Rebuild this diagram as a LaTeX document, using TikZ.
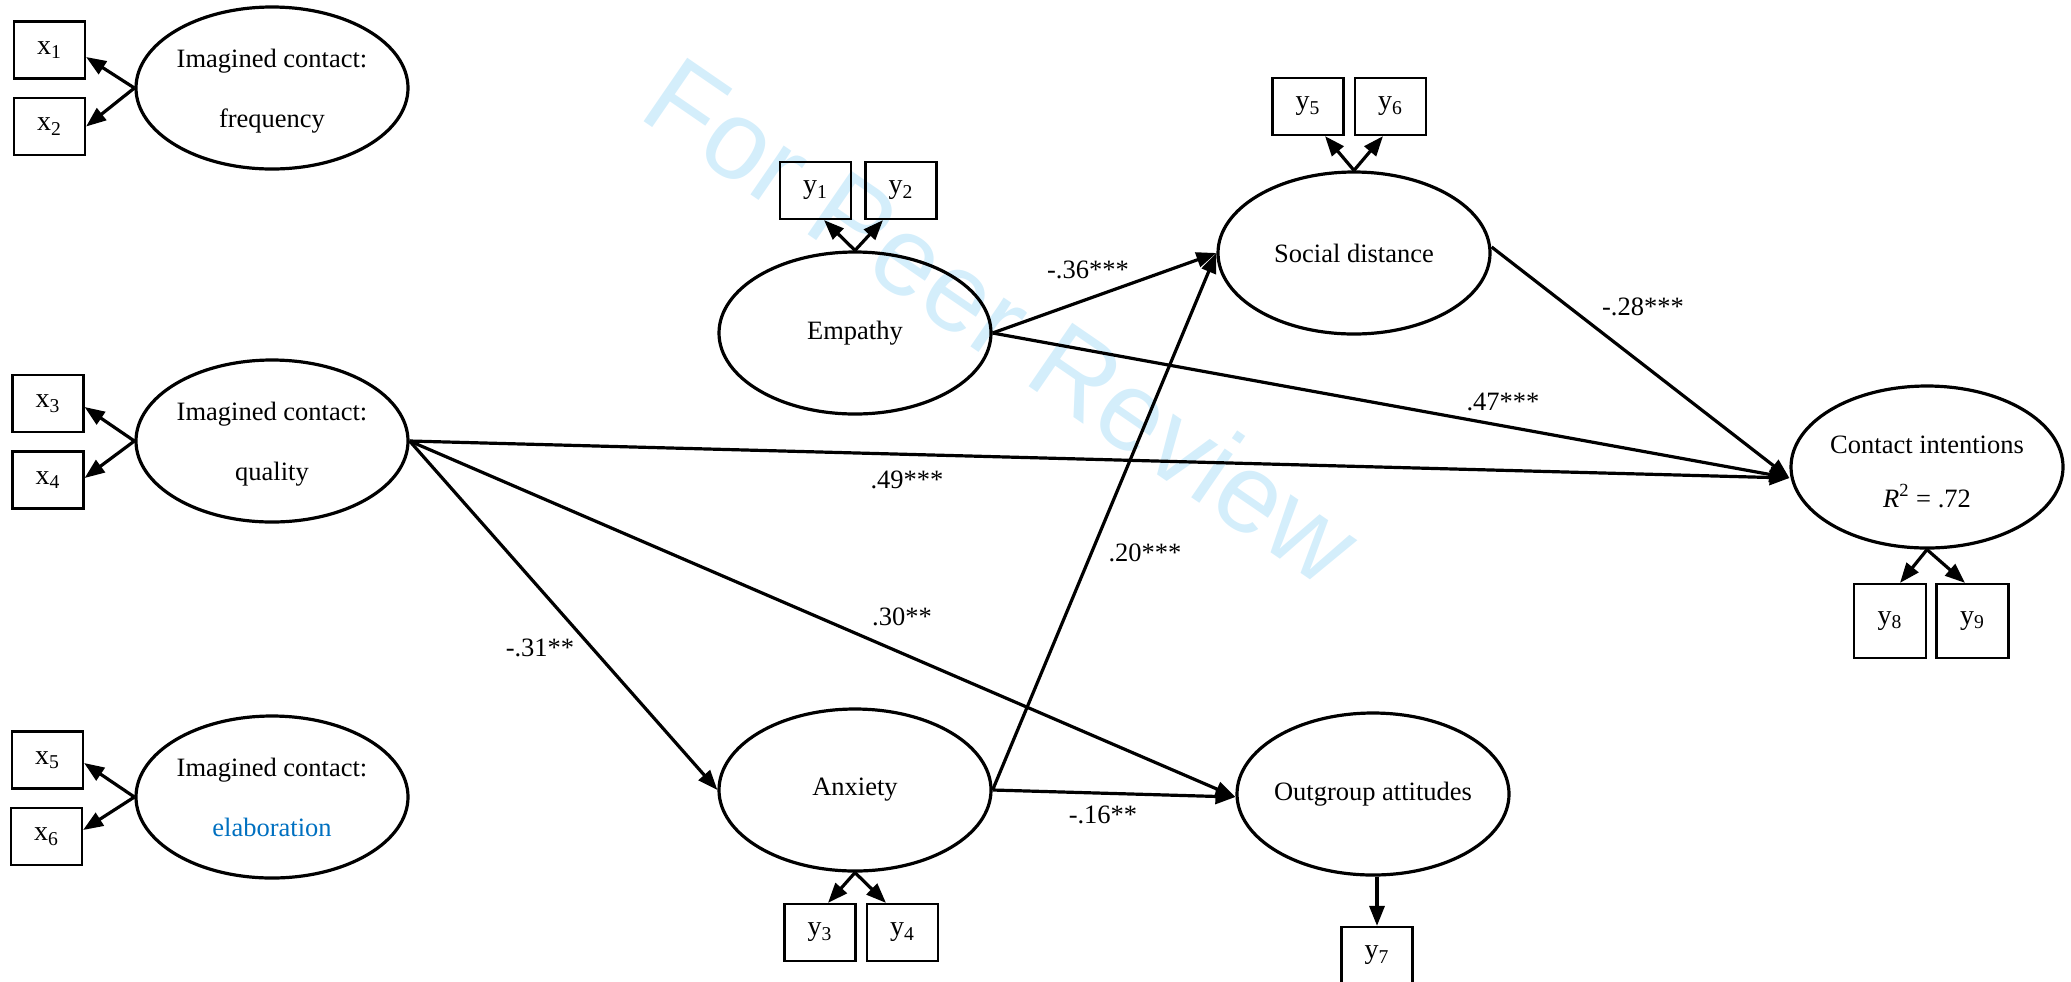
\documentclass[tikz,border=0pt]{standalone}
\usepackage{fontspec}
\setmainfont{Liberation Serif}
\newfontfamily\wmfont{Liberation Sans}
\usetikzlibrary{shapes.geometric, arrows.meta, calc}
\definecolor{wmblue}{RGB}{212,238,251}
\definecolor{elabblue}{RGB}{0,112,192}
\newcommand{\mainsize}{\fontsize{13.25}{15.9}\selectfont}
% two centred lines inside an ellipse, lowered a little, taking no width
\newcommand{\twolines}[4]{\makebox[0pt]{\raisebox{-#4}[\height][\depth]{%
  \begin{tabular}{@{}c@{}}#1\\[#3]#2\end{tabular}}}}

\begin{document}
\begin{tikzpicture}[x=0.5pt, y=-0.5pt,
  latent/.style={ellipse, draw, line width=1.6pt, minimum width=136pt,
    minimum height=81pt, inner sep=0pt, font=\mainsize},
  indicator/.style={rectangle, draw, line width=1.1pt, minimum width=35.5pt,
    minimum height=28.5pt, inner sep=0pt, font=\fontsize{14}{16}\selectfont},
  tallindicator/.style={indicator, minimum width=36pt, minimum height=37pt},
  loading/.style={line width=1.6pt, -{Triangle[length=10pt, width=7.5pt]}},
  effect/.style={line width=1.6pt, -{Triangle[length=10pt, width=7.5pt]}},
  coef/.style={inner sep=0pt, font=\mainsize},
  watermark/.style={rotate=-34.5, text=wmblue, inner sep=0pt,
    font=\wmfont\fontsize{56}{60}\selectfont}
]
\useasboundingbox (0,0) rectangle (2071,981);

% review watermark, drawn underneath everything
\node[watermark] (wm) at (1003,320) {For Peer Review};

% latent variables
\node[latent] (f) at (272,88) {\twolines{Imagined contact:}{frequency}{14pt}{1.5pt}};
\node[latent] (q) at (272,441) {\twolines{Imagined contact:}{quality}{14pt}{1.5pt}};
\node[latent] (el) at (272,797)
  {\twolines{Imagined contact:}{\textcolor{elabblue}{elaboration}}{14pt}{1.5pt}};
\node[latent] (emp) at (855,333) {\makebox[0pt]{Empathy}};
\node[latent] (sd) at (1354,253) {\makebox[0pt]{Social distance}};
\node[latent] (ci) at (1927,467)
  {\twolines{Contact intentions}{\textit{R}\textsuperscript{2} = .72}{10.5pt}{3.5pt}};
\node[latent] (anx) at (855,790) {\makebox[0pt]{Anxiety}};
\node[latent] (oa) at (1373,794) {\makebox[0pt]{Outgroup attitudes}};

% observed indicators
\node[indicator] (x1) at (49.5,50) {x\textsubscript{1}};
\node[indicator] (x2) at (49.5,126.5) {x\textsubscript{2}};
\node[indicator] (x3) at (48,403.5) {x\textsubscript{3}};
\node[indicator] (x4) at (48,480) {x\textsubscript{4}};
\node[indicator] (x5) at (47.5,760) {x\textsubscript{5}};
\node[indicator] (x6) at (46.5,836.5) {x\textsubscript{6}};
\node[indicator] (y1) at (815.5,190.5) {y\textsubscript{1}};
\node[indicator] (y2) at (901,190.5) {y\textsubscript{2}};
\node[indicator] (y5) at (1308,106.5) {y\textsubscript{5}};
\node[indicator] (y6) at (1390.5,106.5) {y\textsubscript{6}};
\node[indicator] (y3) at (820,932.5) {y\textsubscript{3}};
\node[indicator] (y4) at (902.5,932.5) {y\textsubscript{4}};
\node[indicator] (y7) at (1377,955.5) {y\textsubscript{7}};
\node[tallindicator] (y8) at (1890,621) {y\textsubscript{8}};
\node[tallindicator] (y9) at (1972.5,621) {y\textsubscript{9}};

% measurement paths
\draw[loading] (f.west) -- ($(x1.east)+(0,7)$);
\draw[loading] (f.west) -- (x2.east);
\draw[loading] (q.west) -- ($(x3.east)+(0,3.5)$);
\draw[loading] (q.west) -- ($(x4.east)+(0,-2)$);
\draw[loading] (el.west) -- ($(x5.east)+(0,3)$);
\draw[loading] (el.west) -- ($(x6.east)+(0,-6.5)$);
\draw[loading] (emp.north) -- ($(y1.south)+(8.5,0)$);
\draw[loading] (emp.north) -- ($(y2.south)+(-18,0)$);
\draw[loading] (sd.north) -- ($(y5.south)+(17,0)$);
\draw[loading] (sd.north) -- ($(y6.south)+(-7.5,0)$);
\draw[loading] (anx.south) -- ($(y3.north)+(8,0)$);
\draw[loading] (anx.south) -- ($(y4.north)+(-16.5,0)$);
\draw[loading] (y7.north |- oa.south) -- (y7.north);
\draw[loading] (ci.south) -- ($(y8.north)+(10,0)$);
\draw[loading] (ci.south) -- ($(y9.north)+(-7.5,0)$);

% structural paths
\draw[effect] (emp.east) -- (sd.west);
\draw[effect] (emp.east) -- ($(ci.west)+(0,11)$);
\draw[effect] ($(sd.east)+(0,-6)$) -- ($(ci.west)+(0,11)$);
\draw[effect] (q.east) -- ($(ci.west)+(0,11)$);
\draw[effect] (q.east) -- (anx.west);
\draw[effect] (q.east) -- ($(oa.west)+(0,3)$);
\draw[effect] (anx.east) -- (sd.west);
\draw[effect] (anx.east) -- ($(oa.west)+(0,3)$);

% path coefficients
\node[coef] (c1) at (1088,270) {-.36***};
\node[coef] (c2) at (1643,307) {-.28***};
\node[coef] (c3) at (1503,402) {.47***};
\node[coef] (c4) at (907,480) {.49***};
\node[coef] (c5) at (1145,553) {.20***};
\node[coef] (c6) at (902,617) {.30**};
\node[coef] (c7) at (540,648) {-.31**};
\node[coef] (c8) at (1103,815) {-.16**};
\end{tikzpicture}
\end{document}
